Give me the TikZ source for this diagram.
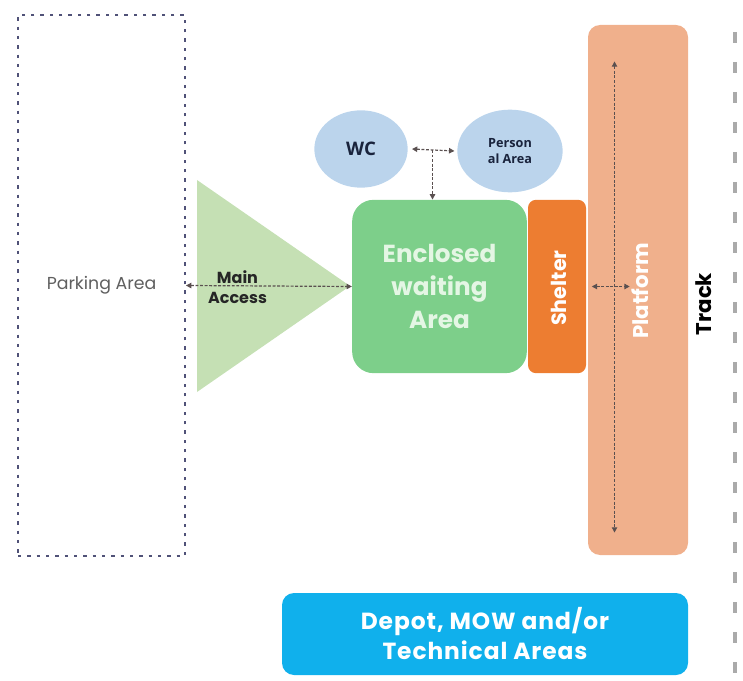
\documentclass[tikz,border=0pt]{standalone}
\usepackage{fontspec}
\setmainfont{Open Sans}
\newfontfamily\geofont{Poppins}
\newfontfamily\widegeofont[LetterSpace=4]{Poppins}
\usetikzlibrary{arrows.meta,shapes.geometric,calc}

\definecolor{parkline}{RGB}{80,82,120}
\definecolor{parktext}{RGB}{95,95,95}
\definecolor{accessgreen}{RGB}{197,224,180}
\definecolor{waitgreen}{RGB}{125,207,138}
\definecolor{waittext}{RGB}{228,246,228}
\definecolor{shelterorange}{RGB}{237,125,49}
\definecolor{platformsalmon}{RGB}{240,176,140}
\definecolor{facilityblue}{RGB}{187,212,236}
\definecolor{navytext}{RGB}{25,35,60}
\definecolor{depotblue}{RGB}{16,176,236}
\definecolor{trackgray}{RGB}{170,170,170}
\definecolor{flowgray}{RGB}{90,80,80}

\tikzset{
  area/.style={draw=none, inner sep=0pt, align=center},
  roundbox/.style={area, rounded corners=#1},
  facility/.style={area, ellipse, fill=facilityblue, text=navytext, font=\bfseries},
  flow/.style={draw=flowgray, line width=0.9pt, dash pattern=on 2.2pt off 1.2pt,
    {Triangle[length=4pt,width=4pt]}-{Triangle[length=4pt,width=4pt]}},
  flowone/.style={draw=flowgray, line width=0.9pt, dash pattern=on 2.2pt off 1.2pt,
    -{Triangle[length=4pt,width=4pt]}},
}

\begin{document}
\begin{tikzpicture}[x=0.75pt,y=-0.75pt]
\useasboundingbox (0,0) rectangle (743,681);

% parking lot, dotted outline
\node[area, draw=parkline, line width=1.4pt, dash pattern=on 2.6pt off 4.4pt,
      minimum width=125.25pt, minimum height=405.75pt,
      text=parktext, font=\geofont\fontsize{13}{15}\selectfont]
  (parking) at (101.5,285.5) {Parking Area};

% main access wedge
\fill[accessgreen] (197,180) -- (350,286) -- (197,392) -- cycle;
\node[area, text=black!85, font=\geofont\bfseries\fontsize{12}{15}\selectfont]
  (access) at (237.5,287) {Main\\Access};

% enclosed waiting area
\node[roundbox=16pt, fill=waitgreen, minimum width=131pt, minimum height=130pt,
      text=waittext, font=\geofont\bfseries\fontsize{18.5}{24.4}\selectfont]
  (enclosed) at (439.5,286.5) {Enclosed\\waiting\\Area};

% shelter
\node[roundbox=6pt, fill=shelterorange, minimum width=43.5pt, minimum height=130pt]
  (shelter) at (557,286.5) {};
\node[area, rotate=90, text=white, font=\geofont\bfseries\fontsize{15.5}{18}\selectfont]
  at (559,288) {Shelter};

% platform
\node[roundbox=9pt, fill=platformsalmon, minimum width=75pt, minimum height=397.5pt]
  (platform) at (638,290) {};
\node[area, rotate=90, text=white, font=\geofont\bfseries\fontsize{16}{18}\selectfont]
  at (640,291) {Platform};

% track
\node[area, rotate=90, text=black, font=\geofont\bfseries\fontsize{16}{18}\selectfont]
  (track) at (704,304) {Track};
\coordinate (tracktop) at (735,32);
\coordinate (trackbot) at (735,681);
\draw[trackgray, line width=3.6pt, dash pattern=on 8pt off 14.5pt] (tracktop) -- (trackbot);

% WC and personal area
\node[facility, minimum width=70pt, minimum height=58pt,
      font=\bfseries\fontsize{14}{16}\selectfont] (wc) at (361,149) {WC};
\node[facility, minimum width=79pt, minimum height=62pt,
      font=\bfseries\fontsize{9.5}{12.5}\selectfont] (personal) at (510,151) {Person\\al Area};

% depot
\node[roundbox=9pt, fill=depotblue, minimum width=304.5pt, minimum height=61.5pt,
      text=white, font=\widegeofont\bfseries\fontsize{17.5}{22.5}\selectfont]
  (depot) at (485,634) {Depot, MOW and/or\\Technical Areas};

% circulation links
\draw[flow] (parking.east) -- (enclosed.west);
\coordinate (junction) at ($(wc.east)!0.5!(personal.west)$);
\draw[flow] ([xshift=3pt]wc.east) -- ([xshift=-2pt]personal.west);
\draw[flowone] (junction) -- (junction |- enclosed.north);
\coordinate (sp1) at ([xshift=3pt]platform.west |- shelter.east);
\coordinate (sp2) at ([xshift=31.5pt]platform.west |- shelter.east);
\draw[flow] (sp1) -- (sp2);
\coordinate (pv1) at ([xshift=-17.6pt,yshift=-27.5pt]platform.north);
\coordinate (pv2) at ([xshift=-17.6pt,yshift=17pt]platform.south);
\draw[flow] (pv1) -- (pv2);
\end{tikzpicture}
\end{document}
